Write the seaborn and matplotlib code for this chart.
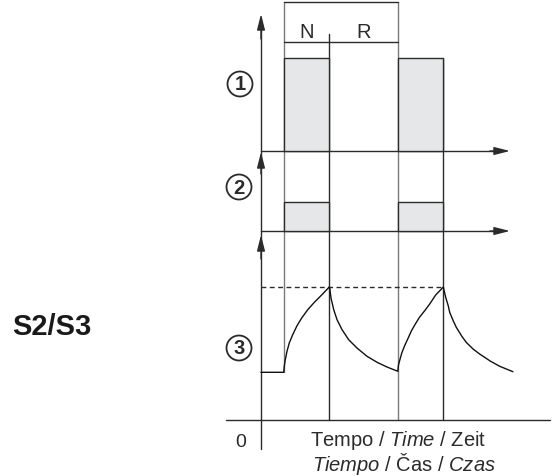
import matplotlib
matplotlib.use("Agg")
import matplotlib.pyplot as plt
from matplotlib.patches import Ellipse
import numpy as np
import pandas as pd
import seaborn as sns

# ---- duty cycle data -------------------------------------------------------
# time units: load switched on / switched off in each period
load_on = [2, 12]
load_off = [6, 16]

# panel 1: load, panel 2: electrical losses (diagram units)
load_level = 93
loss_level = 29

# panel 3: winding temperature over the cycle
temp_time = [0, 1.99, 2.04, 2.13, 2.28, 2.48, 2.78, 3.16, 3.57, 4.10, 4.68, 5.26, 5.99,
             6.03, 6.14, 6.38, 6.67, 7.11, 7.69, 8.42, 9.30, 10.18, 11.05, 12.0,
             12.06, 12.2, 12.37, 12.6, 12.9, 13.2, 13.54, 13.9, 14.36, 14.8, 15.32, 16.0,
             16.03, 16.2, 16.43, 16.55, 16.87, 17.13, 17.6, 18.0, 18.6, 19.18, 20.1,
             20.94, 22.1]
temp_value = [47.7, 47.7, 53.7, 60.3, 68.7, 77, 85.3, 94.3, 102, 110.3, 117.7, 124.3, 133,
              132, 122, 110.3, 100.3, 90.3, 80.3, 72, 63.7, 57.7, 53, 48.7,
              55, 61, 67.7, 74.3, 81.7, 89.3, 96, 102.7, 109.3, 116, 125, 133,
              131, 122.7, 114, 107.7, 99, 92.7, 84, 77.7, 71, 66, 59,
              53.7, 48.3]
temp_max = 133

panel_marks = ["1", "2", "3"]
duty_labels = ["N", "R"]
title = "S2/S3"
origin_label = "0"
time_label_1 = r"Tempo / $\it{Time}$ / Zeit"
time_label_2 = r"$\it{Tiempo}$ / Čas / $\it{Czas}$"

# ---- styling ---------------------------------------------------------------
sns.set_theme(style="white")
plt.rcParams["font.family"] = ["Liberation Sans", "DejaVu Sans"]
plt.rcParams["mathtext.fontset"] = "custom"
plt.rcParams["mathtext.rm"] = "Liberation Sans"
plt.rcParams["mathtext.it"] = "Liberation Sans:italic"
plt.rcParams["mathtext.bf"] = "Liberation Sans:bold"

W, H = 560, 477
SCALE = 11.4     # pixels per time unit
ORIGIN = 261     # pixel column of the time origin

def tx(px):
    return (px - ORIGIN) / SCALE

def ty(py):
    return H - py

FILL = "#e6e7e8"
DARK = "#2b2b2b"
GRAY = "#7a7a7a"
LW = 1.0

fig = plt.figure(figsize=(W / 100, H / 100), dpi=100)
ax = fig.add_axes([0, 0, 1, 1])
ax.set_xlim(tx(0), tx(W))
ax.set_ylim(0, H)
ax.axis("off")

base1, base2, base3 = ty(152), ty(232), ty(421)

def arrow(tip, tail):
    ax.annotate("", xy=tip, xytext=tail,
                arrowprops=dict(arrowstyle="-|>,head_length=0.95,head_width=0.24",
                                color=DARK, lw=LW, shrinkA=0, shrinkB=0,
                                mutation_scale=10))

# load and losses blocks
for on, off in zip(load_on, load_off):
    ax.bar(on, load_level, width=off - on, bottom=base1, align="edge",
           color=FILL, edgecolor=DARK, linewidth=LW, zorder=2)
    ax.bar(on, loss_level, width=off - on, bottom=base2, align="edge",
           color=FILL, edgecolor=DARK, linewidth=LW, zorder=2)

# temperature curve
temp_df = pd.DataFrame({"t": temp_time,
                        "theta": np.array(temp_value) + base3})
sns.lineplot(data=temp_df, x="t", y="theta", ax=ax, color="#111111",
             linewidth=LW, sort=False, estimator=None, zorder=3)
ax.plot([0, load_off[1]], [base3 + temp_max] * 2, color=DARK, lw=LW,
        dashes=(3.5, 2.5), zorder=2)

# vertical cycle markers
ax.plot([load_on[0]] * 2, [ty(3), base3 + temp_value[1]], color=GRAY, lw=LW, zorder=1)
ax.plot([load_off[0]] * 2, [ty(35), base3], color=DARK, lw=LW, zorder=1)
ax.plot([load_on[1]] * 2, [ty(3), base3], color=GRAY, lw=LW, zorder=1)
ax.plot([load_off[1]] * 2, [base1 + load_level, base3], color=DARK, lw=LW, zorder=1)

# period bracket N / R
ax.plot([load_on[0], load_on[1]], [ty(3)] * 2, color=DARK, lw=LW)
ax.plot([load_on[0], load_on[1]], [ty(43)] * 2, color=DARK, lw=LW)
ax.text((load_on[0] + load_off[0]) / 2, ty(32), duty_labels[0],
        ha="center", va="center", fontsize=14.5, color=DARK)
ax.text((load_off[0] + load_on[1]) / 2, ty(32), duty_labels[1],
        ha="center", va="center", fontsize=14.5, color=DARK)

# axes with arrows
ax.plot([0, 0], [ty(450), ty(20)], color=DARK, lw=LW, zorder=1)
arrow((0, ty(15)), (0, ty(40)))
arrow((0, ty(153)), (0, ty(175)))
arrow((0, ty(236)), (0, ty(260)))
ax.plot([0, tx(500)], [base1] * 2, color=DARK, lw=LW, zorder=1)
arrow((tx(510), base1), (tx(490), base1))
ax.plot([0, tx(500)], [base2] * 2, color=DARK, lw=LW, zorder=1)
arrow((tx(510), base2), (tx(490), base2))
ax.plot([tx(226), tx(550)], [base3] * 2, color=DARK, lw=LW, zorder=1)
arrow((tx(563), base3), (tx(540), base3))

# circled panel numbers
for mark, (cx, cy) in zip(panel_marks, [(240, 85), (239, 188), (239, 349)]):
    ax.add_patch(Ellipse((tx(cx), ty(cy)), width=25 / SCALE, height=25,
                         fill=False, edgecolor=DARK, lw=1.3))
    ax.text(tx(cx), ty(cy), mark, ha="center", va="center", fontsize=14.5,
            fontweight="bold", color=DARK)

ax.text(tx(241), ty(443), origin_label, ha="center", va="center",
        fontsize=14, color=DARK)
ax.text(tx(398), ty(441), time_label_1, ha="center", va="center",
        fontsize=14.5, color=DARK)
ax.text(tx(404), ty(464), time_label_2, ha="center", va="center",
        fontsize=14.5, color=DARK)

ax.text(tx(52), ty(327), title, ha="center", va="center", fontsize=21,
        fontweight="bold", color="#1a1a1a")

fig.savefig("out.png", dpi=100)
